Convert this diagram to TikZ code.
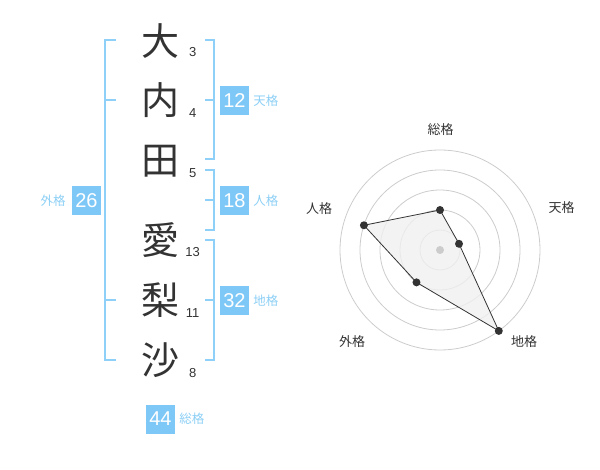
\documentclass[tikz,border=0pt]{standalone}
\usepackage{fontspec}
\setmainfont{Liberation Sans}
\newfontfamily\jpfont{Noto Sans CJK JP}
\usetikzlibrary{positioning}
\definecolor{kakublue}{HTML}{7EC8F8}
\definecolor{kakulabel}{HTML}{8CCFF5}
\definecolor{kakuline}{HTML}{8ED0F8}
\definecolor{ink}{HTML}{333333}
\tikzset{
  kanji/.style={font=\jpfont\fontsize{38}{38}\selectfont, text=ink, inner sep=0pt},
  kakusu/.style={font=\fontsize{13}{13}\selectfont, text=ink, inner sep=0pt},
  numbox/.style={fill=kakublue, text=white, minimum size=29pt, inner sep=0pt,
    font=\fontsize{20}{20}\selectfont},
  kakulbl/.style={text=kakulabel, font=\jpfont\fontsize{12.5}{12.5}\selectfont, inner sep=1pt},
  bracket/.style={draw=kakuline, line width=2pt},
  ring/.style={draw=black!20, line width=0.8pt},
  axislbl/.style={text=ink, font=\jpfont\fontsize{13}{13}\selectfont},
  dot/.style={circle, fill=ink, inner sep=0pt, minimum size=8pt}
}
\begin{document}
\begin{tikzpicture}[x=1pt,y=-1pt]
  \useasboundingbox (0,0) rectangle (600,470);
  % name characters
  \node[kanji] (c1) at (160,41) {大};
  \node[kanji] (c2) at (160,100) {内};
  \node[kanji] (c3) at (160,161) {田};
  \node[kanji] (c4) at (160,240) {愛};
  \node[kanji] (c5) at (160,300) {梨};
  \node[kanji] (c6) at (160,360) {沙};
  % stroke counts
  \node[kakusu] (n1) at (192.7,52) {3};
  \node[kakusu] (n2) at (192.7,113) {4};
  \node[kakusu] (n3) at (192.7,172.7) {5};
  \node[kakusu] (n4) at (192.7,252) {13};
  \node[kakusu] (n5) at (192.7,312.7) {11};
  \node[kakusu] (n6) at (192.7,372.7) {8};
  % brackets
  \draw[bracket] (116,40) -- (105,40) -- (105,360) -- (116,360);
  \draw[bracket] (105,100) -- (116,100);
  \draw[bracket] (105,300) -- (116,300);
  \draw[bracket] (205,40) -- (214,40) -- (214,159) -- (205,159);
  \draw[bracket] (205,100) -- (214,100);
  \draw[bracket] (205,170) -- (214,170) -- (214,230) -- (205,230);
  \draw[bracket] (205,200) -- (214,200);
  \draw[bracket] (205,240) -- (214,240) -- (214,360) -- (205,360);
  \draw[bracket] (205,300) -- (214,300);
  % totals
  \node[numbox] (ten) at (234.5,100.5) {12};
  \node[kakulbl, right=3pt of ten] (tenl) {天格};
  \node[numbox] (jin) at (234.5,200.5) {18};
  \node[kakulbl, right=3pt of jin] (jinl) {人格};
  \node[numbox] (chi) at (234.5,300.5) {32};
  \node[kakulbl, right=3pt of chi] (chil) {地格};
  \node[numbox] (gai) at (86.5,200.5) {26};
  \node[kakulbl, left=5pt of gai] (gail) {外格};
  \node[numbox] (sou) at (160.5,419) {44};
  \node[kakulbl, right=3pt of sou] (soul) {総格};
  % radar chart
  \begin{scope}[shift={(440,250)}, y=1pt]
    \foreach \r in {20,40,...,100}
      \draw[ring] (0,0) circle (\r);
    \coordinate (psou) at (90:40);
    \coordinate (pten) at (18:20);
    \coordinate (pchi) at (-54:100);
    \coordinate (pgai) at (-126:40);
    \coordinate (pjin) at (162:80);
    \filldraw[fill=black!6, fill opacity=0.8, draw=ink, line width=0.8pt]
      (psou) -- (pten) -- (pchi) -- (pgai) -- (pjin) -- cycle;
    \fill[black!20] (0,0) circle (4);
    \foreach \p in {psou,pten,pchi,pgai,pjin}
      \node[dot] at (\p) {};
    \node[axislbl] (lsou) at (0.7,120) {総格};
    \node[axislbl] (lten) at (121.7,42) {天格};
    \node[axislbl] (ljin) at (-121,41) {人格};
    \node[axislbl] (lgai) at (-88,-91.7) {外格};
    \node[axislbl] (lchi) at (84,-91.7) {地格};
  \end{scope}
\end{tikzpicture}
\end{document}
